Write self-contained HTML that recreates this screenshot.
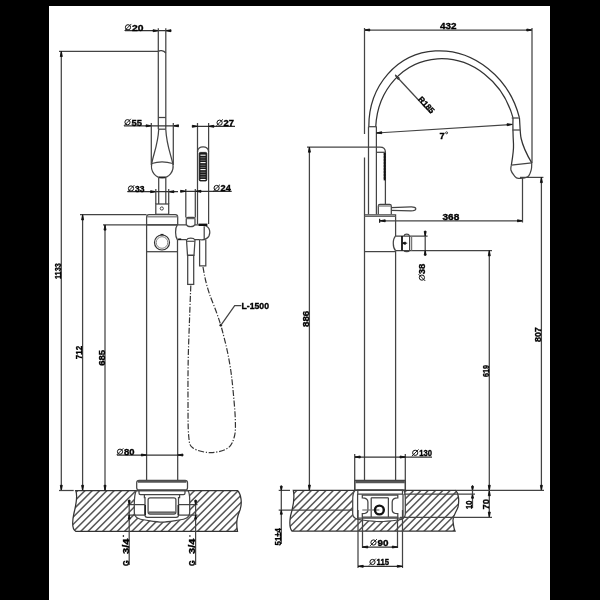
<!DOCTYPE html>
<html><head><meta charset="utf-8"><style>
html,body{margin:0;padding:0;background:#000;}
svg{display:block;will-change:transform}
text{font-family:"Liberation Sans",sans-serif;fill:#000;stroke:#000;stroke-width:0.35px;}
</style></head><body>
<svg width="600" height="600" viewBox="0 0 600 600">
<rect x="0" y="0" width="600" height="600" fill="#000"/>
<rect x="49" y="6" width="501" height="594" fill="#fff"/>
<line x1="59" y1="51.3" x2="158.3" y2="51.3" stroke="#444" stroke-width="1.25"/>
<line x1="61.3" y1="51.3" x2="61.3" y2="490.5" stroke="#444" stroke-width="1.25"/>
<path d="M61.30,51.30 L62.30,56.50 L60.30,56.50 Z" fill="#111" stroke="#111" stroke-width="0.9" stroke-linejoin="round"/>
<path d="M61.30,490.50 L60.30,485.30 L62.30,485.30 Z" fill="#111" stroke="#111" stroke-width="0.9" stroke-linejoin="round"/>
<text x="60.8" y="279" font-size="9" font-weight="bold" text-anchor="start" textLength="15.7" lengthAdjust="spacingAndGlyphs" transform="rotate(-90 60.8 279)">1133</text>
<line x1="80" y1="214.7" x2="146.5" y2="214.7" stroke="#444" stroke-width="1.25"/>
<line x1="82.6" y1="214.7" x2="82.6" y2="490.5" stroke="#444" stroke-width="1.25"/>
<path d="M82.60,214.70 L83.60,219.90 L81.60,219.90 Z" fill="#111" stroke="#111" stroke-width="0.9" stroke-linejoin="round"/>
<path d="M82.60,490.50 L81.60,485.30 L83.60,485.30 Z" fill="#111" stroke="#111" stroke-width="0.9" stroke-linejoin="round"/>
<text x="82.0" y="359.2" font-size="9" font-weight="bold" text-anchor="start" textLength="13.4" lengthAdjust="spacingAndGlyphs" transform="rotate(-90 82.0 359.2)">712</text>
<line x1="103" y1="224.9" x2="177.5" y2="224.9" stroke="#444" stroke-width="1.25"/>
<line x1="105" y1="224.9" x2="105" y2="490.5" stroke="#444" stroke-width="1.25"/>
<path d="M105.00,224.90 L106.00,230.10 L104.00,230.10 Z" fill="#111" stroke="#111" stroke-width="0.9" stroke-linejoin="round"/>
<path d="M105.00,490.50 L104.00,485.30 L106.00,485.30 Z" fill="#111" stroke="#111" stroke-width="0.9" stroke-linejoin="round"/>
<text x="104.8" y="365.8" font-size="9" font-weight="bold" text-anchor="start" textLength="15.8" lengthAdjust="spacingAndGlyphs" transform="rotate(-90 104.8 365.8)">685</text>
<line x1="125" y1="30.7" x2="171" y2="30.7" stroke="#333" stroke-width="1.25"/>
<path d="M158.30,30.70 L153.10,31.70 L153.10,29.70 Z" fill="#111" stroke="#111" stroke-width="0.9" stroke-linejoin="round"/>
<path d="M165.80,30.70 L171.00,29.70 L171.00,31.70 Z" fill="#111" stroke="#111" stroke-width="0.9" stroke-linejoin="round"/>
<line x1="158.3" y1="28.3" x2="158.3" y2="51.5" stroke="#444" stroke-width="1.25"/>
<line x1="165.8" y1="28.3" x2="165.8" y2="53" stroke="#444" stroke-width="1.25"/>
<g><circle cx="128" cy="27.3" r="2.6" fill="none" stroke="#111" stroke-width="1"/><line x1="124.60000000000001" y1="30.700000000000003" x2="131.4" y2="23.9" stroke="#111" stroke-width="0.9"/></g>
<text x="132" y="30.5" font-size="9" font-weight="bold" text-anchor="start" textLength="11.5" lengthAdjust="spacingAndGlyphs">20</text>
<line x1="158.3" y1="51.5" x2="158.3" y2="129.2" stroke="#444" stroke-width="1.25"/>
<line x1="165.8" y1="53" x2="165.8" y2="129.2" stroke="#444" stroke-width="1.25"/>
<path d="M158.3,51.5 C159.5,50 163.5,50 165.8,53" stroke="#444" stroke-width="1.25" fill="none" />
<line x1="158.3" y1="117.5" x2="165.8" y2="117.5" stroke="#444" stroke-width="1.25"/>
<line x1="158.3" y1="129.2" x2="165.8" y2="129.2" stroke="#444" stroke-width="1.25"/>
<line x1="124" y1="125.8" x2="178" y2="125.8" stroke="#333" stroke-width="1.25"/>
<path d="M151.30,125.80 L146.10,126.80 L146.10,124.80 Z" fill="#111" stroke="#111" stroke-width="0.9" stroke-linejoin="round"/>
<path d="M173.30,125.80 L178.50,124.80 L178.50,126.80 Z" fill="#111" stroke="#111" stroke-width="0.9" stroke-linejoin="round"/>
<line x1="151.3" y1="123" x2="151.3" y2="165" stroke="#444" stroke-width="1.25"/>
<line x1="173.3" y1="123" x2="173.3" y2="165" stroke="#444" stroke-width="1.25"/>
<g><circle cx="127.5" cy="122.2" r="2.6" fill="none" stroke="#111" stroke-width="1"/><line x1="124.10000000000001" y1="125.6" x2="130.9" y2="118.80000000000001" stroke="#111" stroke-width="0.9"/></g>
<text x="131.5" y="125.5" font-size="9" font-weight="bold" text-anchor="start" textLength="10.5" lengthAdjust="spacingAndGlyphs">55</text>
<path d="M158.7,129.2 C158,145 153,155 151.8,163.5" stroke="#444" stroke-width="1.25" fill="none" />
<path d="M165.8,129.2 C166.5,145 171,155 172.8,163.5" stroke="#444" stroke-width="1.25" fill="none" />
<path d="M151.8,163.5 C158,161.5 166,161.5 172.8,163.5" stroke="#444" stroke-width="1.25" fill="none" />
<path d="M151.8,163.5 C150,172 156,177.8 162.2,177.8 C168.5,177.8 174.5,172 172.8,163.5" stroke="#444" stroke-width="1.25" fill="none" />
<line x1="159" y1="177.3" x2="165.5" y2="177.3" stroke="#222" stroke-width="1.6"/>
<line x1="158.7" y1="177.8" x2="158.7" y2="204" stroke="#444" stroke-width="1.25"/>
<line x1="165.8" y1="177.8" x2="165.8" y2="204" stroke="#444" stroke-width="1.25"/>
<line x1="127.5" y1="191.7" x2="178" y2="191.7" stroke="#333" stroke-width="1.25"/>
<path d="M155.80,191.70 L150.60,192.70 L150.60,190.70 Z" fill="#111" stroke="#111" stroke-width="0.9" stroke-linejoin="round"/>
<path d="M168.70,191.70 L173.90,190.70 L173.90,192.70 Z" fill="#111" stroke="#111" stroke-width="0.9" stroke-linejoin="round"/>
<line x1="155.8" y1="189" x2="155.8" y2="204" stroke="#444" stroke-width="1.25"/>
<line x1="168.7" y1="189" x2="168.7" y2="204" stroke="#444" stroke-width="1.25"/>
<g><circle cx="131" cy="188.5" r="2.6" fill="none" stroke="#111" stroke-width="1"/><line x1="127.60000000000001" y1="191.9" x2="134.4" y2="185.1" stroke="#111" stroke-width="0.9"/></g>
<text x="135" y="191.5" font-size="9" font-weight="bold" text-anchor="start" textLength="9.5" lengthAdjust="spacingAndGlyphs">33</text>
<rect x="155.8" y="204" width="12.899999999999977" height="10.300000000000011" rx="0" stroke="#444" stroke-width="1.25" fill="none"/>
<circle cx="161.8" cy="208.5" r="1.6" fill="none" stroke="#444" stroke-width="1"/>
<path d="M146.6,480.3 L146.6,217 Q146.6,214.6 149,214.6 L175.3,214.6 Q177.7,214.6 177.7,217 L177.7,224.9 M177.5,239.5 L177.7,480.3" stroke="#444" stroke-width="1.25" fill="none" />
<line x1="146.6" y1="216.8" x2="177.7" y2="216.8" stroke="#777" stroke-width="1.25"/>
<line x1="146.6" y1="251.7" x2="177.7" y2="251.7" stroke="#444" stroke-width="1.25"/>
<circle cx="162" cy="242.5" r="7.5" fill="none" stroke="#333" stroke-width="1.2"/>
<circle cx="162" cy="242.5" r="5.8" fill="none" stroke="#666" stroke-width="0.8"/>
<line x1="160.5" y1="234.6" x2="163.5" y2="234.6" stroke="#222" stroke-width="1.4"/>
<path d="M146.6,224.9 L186.25,224.9 M195,224.9 L198.3,224.9" stroke="#444" stroke-width="1.25" fill="none" />
<path d="M177.3,224.9 C175,228 175,236.5 177.3,239.5" stroke="#444" stroke-width="1.25" fill="none" />
<path d="M177.3,239.5 L186.5,239.5 M195,239.5 L199.5,239.5" stroke="#444" stroke-width="1.25" fill="none" />
<path d="M198.3,224.9 C204,223.8 209.8,226.5 209.8,232.2 C209.8,237.8 205,240.6 199.5,239.5" stroke="#444" stroke-width="1.25" fill="none" />
<line x1="204.2" y1="226.2" x2="204.2" y2="239.5" stroke="#444" stroke-width="1.25"/>
<line x1="178.2" y1="239.2" x2="181.2" y2="239.2" stroke="#111" stroke-width="1.5"/>
<line x1="185.8" y1="189" x2="185.8" y2="217.4" stroke="#444" stroke-width="1.25"/>
<line x1="195.3" y1="189" x2="195.3" y2="217.4" stroke="#444" stroke-width="1.25"/>
<path d="M186.25,224.5 L186.25,219 Q186.25,217.4 188,217.4 L193.3,217.4 Q195,217.4 195,219 L195,224.5 C193.7,227.4 187.5,227.4 186.25,224.5" stroke="#444" stroke-width="1.25" fill="none" />
<line x1="186.25" y1="218.6" x2="195" y2="218.6" stroke="#666" stroke-width="1.25"/>
<path d="M186.5,240 C187.8,237.6 193.7,237.6 195,240 L194,255.3 L187.5,255.3 Z" stroke="#444" stroke-width="1.25" fill="none" />
<line x1="186.6" y1="241.3" x2="194.9" y2="241.3" stroke="#555" stroke-width="1.25"/>
<rect x="187.7" y="255.3" width="6.0" height="29.099999999999966" rx="0" stroke="#444" stroke-width="1.25" fill="none"/>
<line x1="197.5" y1="123" x2="197.5" y2="224" stroke="#444" stroke-width="1.25"/>
<line x1="208.6" y1="123" x2="208.6" y2="224" stroke="#444" stroke-width="1.25"/>
<path d="M197.5,152 C197.5,145 208.6,145 208.6,152" stroke="#444" stroke-width="1.25" fill="none" />
<rect x="199.2" y="152.4" width="7.600000000000023" height="28.599999999999994" rx="1.2" stroke="#111" stroke-width="0.8" fill="#1a1a1a"/>
<line x1="200.4" y1="155.2" x2="205.6" y2="155.2" stroke="#fff" stroke-width="1.1"/>
<line x1="200.4" y1="162.6" x2="205.6" y2="162.6" stroke="#fff" stroke-width="1.1"/>
<line x1="200.4" y1="169.6" x2="205.6" y2="169.6" stroke="#fff" stroke-width="1.1"/>
<line x1="200.4" y1="179.5" x2="205.6" y2="179.5" stroke="#fff" stroke-width="1.1"/>
<line x1="200.4" y1="157.8" x2="205.6" y2="157.8" stroke="#999" stroke-width="0.7"/>
<line x1="200.4" y1="160.2" x2="205.6" y2="160.2" stroke="#999" stroke-width="0.7"/>
<line x1="200.4" y1="165.2" x2="205.6" y2="165.2" stroke="#999" stroke-width="0.7"/>
<line x1="200.4" y1="167.4" x2="205.6" y2="167.4" stroke="#999" stroke-width="0.7"/>
<line x1="200.4" y1="172.2" x2="205.6" y2="172.2" stroke="#999" stroke-width="0.7"/>
<line x1="200.4" y1="174.6" x2="205.6" y2="174.6" stroke="#999" stroke-width="0.7"/>
<line x1="200.4" y1="177" x2="205.6" y2="177" stroke="#999" stroke-width="0.7"/>
<line x1="198.6" y1="224.8" x2="207.4" y2="224.8" stroke="#111" stroke-width="2.4"/>
<line x1="192.5" y1="126.3" x2="235" y2="126.3" stroke="#333" stroke-width="1.25"/>
<path d="M197.50,126.30 L192.30,127.30 L192.30,125.30 Z" fill="#111" stroke="#111" stroke-width="0.9" stroke-linejoin="round"/>
<path d="M208.60,126.30 L213.80,125.30 L213.80,127.30 Z" fill="#111" stroke="#111" stroke-width="0.9" stroke-linejoin="round"/>
<g><circle cx="219.6" cy="122.7" r="2.6" fill="none" stroke="#111" stroke-width="1"/><line x1="216.2" y1="126.1" x2="223.0" y2="119.30000000000001" stroke="#111" stroke-width="0.9"/></g>
<text x="223.6" y="125.9" font-size="9" font-weight="bold" text-anchor="start" textLength="10.5" lengthAdjust="spacingAndGlyphs">27</text>
<line x1="180.8" y1="191.3" x2="231.7" y2="191.3" stroke="#333" stroke-width="1.25"/>
<path d="M185.80,191.30 L180.60,192.30 L180.60,190.30 Z" fill="#111" stroke="#111" stroke-width="0.9" stroke-linejoin="round"/>
<path d="M195.80,191.30 L201.00,190.30 L201.00,192.30 Z" fill="#111" stroke="#111" stroke-width="0.9" stroke-linejoin="round"/>
<g><circle cx="216.6" cy="188" r="2.6" fill="none" stroke="#111" stroke-width="1"/><line x1="213.2" y1="191.4" x2="220.0" y2="184.6" stroke="#111" stroke-width="0.9"/></g>
<text x="220.6" y="191" font-size="9" font-weight="bold" text-anchor="start" textLength="10.2" lengthAdjust="spacingAndGlyphs">24</text>
<path d="M199.6,239.5 L199.6,265.8 L205.8,265.8 L205.8,239.8" stroke="#444" stroke-width="1.25" fill="none" />
<path d="M190.80,285.50 C190.58,291.25 189.93,307.58 189.50,320.00 C189.07,332.42 188.45,346.67 188.20,360.00 C187.95,373.33 187.92,387.33 188.00,400.00 C188.08,412.67 187.87,428.00 188.70,436.00 C189.53,444.00 189.37,445.23 193.00,448.00 C196.63,450.77 204.67,452.60 210.50,452.60 C216.33,452.60 224.00,450.77 228.00,448.00 C232.00,445.23 233.28,440.75 234.50,436.00 C235.72,431.25 235.47,426.33 235.30,419.50 C235.13,412.67 234.22,402.92 233.50,395.00 C232.78,387.08 232.00,379.17 231.00,372.00 C230.00,364.83 228.67,357.78 227.50,352.00 C226.33,346.22 225.12,341.75 224.00,337.30 C222.88,332.85 222.13,329.68 220.80,325.30 C219.47,320.92 217.88,316.22 216.00,311.00 C214.12,305.78 211.25,299.17 209.50,294.00 C207.75,288.83 206.58,284.50 205.50,280.00 C204.42,275.50 203.42,269.17 203.00,267.00" stroke="#333" stroke-width="1.2" fill="none" stroke-dasharray="6 1.7 1.2 1.7"/>
<circle cx="220.8" cy="325.3" r="1.3" fill="#111"/>
<path d="M220.8,325.3 L234.7,305.7 L241.3,305.7" stroke="#444" stroke-width="1.25" fill="none" />
<text x="241.5" y="308.8" font-size="9" font-weight="bold" text-anchor="start" textLength="27.5" lengthAdjust="spacingAndGlyphs">L-1500</text>
<line x1="117" y1="455" x2="183" y2="455" stroke="#333" stroke-width="1.25"/>
<path d="M146.60,455.00 L141.40,456.00 L141.40,454.00 Z" fill="#111" stroke="#111" stroke-width="0.9" stroke-linejoin="round"/>
<path d="M177.70,455.00 L182.90,454.00 L182.90,456.00 Z" fill="#111" stroke="#111" stroke-width="0.9" stroke-linejoin="round"/>
<g><circle cx="120" cy="451.7" r="2.6" fill="none" stroke="#111" stroke-width="1"/><line x1="116.60000000000001" y1="455.1" x2="123.39999999999999" y2="448.29999999999995" stroke="#111" stroke-width="0.9"/></g>
<text x="124" y="454.6" font-size="9" font-weight="bold" text-anchor="start" textLength="10.5" lengthAdjust="spacingAndGlyphs">80</text>
<rect x="136.7" y="480.3" width="50.80000000000001" height="9.899999999999977" rx="2.5" stroke="#444" stroke-width="1.25" fill="none"/>
<line x1="138" y1="481.6" x2="186.2" y2="481.6" stroke="#555" stroke-width="2.2"/>
<clipPath id="cl"><path clip-rule="evenodd" d="M75.7,490.5 L237.5,490.5 C241,494 242.5,503 240,510 C238,515 235.5,521 237.5,531.3 L75.7,531.3 C72,529 72,522 74,513 C76,505 78,496 75.7,490.5 Z M136.4,490.5 C134.3,494 134.3,498 134.3,505 L134.3,512 C134.3,518 139,519.3 145,520 C152,521 158,522 162,522 C166,522 172,521 179,520 C185,519.3 189.7,518 189.7,512 L189.7,500 C189.7,495 189,492 188,490.5 Z"/></clipPath>
<g clip-path="url(#cl)"><line x1="20.70" y1="533" x2="65.70" y2="488" stroke="#555" stroke-width="1.5"/><line x1="28.00" y1="533" x2="73.00" y2="488" stroke="#555" stroke-width="1.5"/><line x1="35.30" y1="533" x2="80.30" y2="488" stroke="#555" stroke-width="1.5"/><line x1="42.60" y1="533" x2="87.60" y2="488" stroke="#555" stroke-width="1.5"/><line x1="49.90" y1="533" x2="94.90" y2="488" stroke="#555" stroke-width="1.5"/><line x1="57.20" y1="533" x2="102.20" y2="488" stroke="#555" stroke-width="1.5"/><line x1="64.50" y1="533" x2="109.50" y2="488" stroke="#555" stroke-width="1.5"/><line x1="71.80" y1="533" x2="116.80" y2="488" stroke="#555" stroke-width="1.5"/><line x1="79.10" y1="533" x2="124.10" y2="488" stroke="#555" stroke-width="1.5"/><line x1="86.40" y1="533" x2="131.40" y2="488" stroke="#555" stroke-width="1.5"/><line x1="93.70" y1="533" x2="138.70" y2="488" stroke="#555" stroke-width="1.5"/><line x1="101.00" y1="533" x2="146.00" y2="488" stroke="#555" stroke-width="1.5"/><line x1="108.30" y1="533" x2="153.30" y2="488" stroke="#555" stroke-width="1.5"/><line x1="115.60" y1="533" x2="160.60" y2="488" stroke="#555" stroke-width="1.5"/><line x1="122.90" y1="533" x2="167.90" y2="488" stroke="#555" stroke-width="1.5"/><line x1="130.20" y1="533" x2="175.20" y2="488" stroke="#555" stroke-width="1.5"/><line x1="137.50" y1="533" x2="182.50" y2="488" stroke="#555" stroke-width="1.5"/><line x1="144.80" y1="533" x2="189.80" y2="488" stroke="#555" stroke-width="1.5"/><line x1="152.10" y1="533" x2="197.10" y2="488" stroke="#555" stroke-width="1.5"/><line x1="159.40" y1="533" x2="204.40" y2="488" stroke="#555" stroke-width="1.5"/><line x1="166.70" y1="533" x2="211.70" y2="488" stroke="#555" stroke-width="1.5"/><line x1="174.00" y1="533" x2="219.00" y2="488" stroke="#555" stroke-width="1.5"/><line x1="181.30" y1="533" x2="226.30" y2="488" stroke="#555" stroke-width="1.5"/><line x1="188.60" y1="533" x2="233.60" y2="488" stroke="#555" stroke-width="1.5"/><line x1="195.90" y1="533" x2="240.90" y2="488" stroke="#555" stroke-width="1.5"/><line x1="203.20" y1="533" x2="248.20" y2="488" stroke="#555" stroke-width="1.5"/><line x1="210.50" y1="533" x2="255.50" y2="488" stroke="#555" stroke-width="1.5"/><line x1="217.80" y1="533" x2="262.80" y2="488" stroke="#555" stroke-width="1.5"/><line x1="225.10" y1="533" x2="270.10" y2="488" stroke="#555" stroke-width="1.5"/><line x1="232.40" y1="533" x2="277.40" y2="488" stroke="#555" stroke-width="1.5"/><line x1="239.70" y1="533" x2="284.70" y2="488" stroke="#555" stroke-width="1.5"/><line x1="247.00" y1="533" x2="292.00" y2="488" stroke="#555" stroke-width="1.5"/></g>
<path d="M75.7,490.5 L237.5,490.5 C241,494 242.5,503 240,510 C238,515 235.5,521 237.5,531.3 L75.7,531.3 C72,529 72,522 74,513 C76,505 78,496 75.7,490.5 Z" stroke="#333" stroke-width="1.25" fill="none" />
<path d="M136.4,490.5 C134.3,494 134.3,498 134.3,505 L134.3,512 C134.3,518 139,519.3 145,520 C152,521 158,522 162,522 C166,522 172,521 179,520 C185,519.3 189.7,518 189.7,512 L189.7,500 C189.7,495 189,492 188,490.5 Z" stroke="#444" stroke-width="1.25" fill="none" />
<line x1="59" y1="490.5" x2="73.7" y2="490.5" stroke="#444" stroke-width="1.25"/>
<path d="M139,490.2 L185,490.2 L185,493 Q185,494.6 183.5,494.6 L140.5,494.6 Q139,494.6 139,493 Z" stroke="#444" stroke-width="1.25" fill="none" />
<path d="M144.4,494.6 L144.4,497.6 L145,497.6 L145,515 Q145,517.3 147.3,517.3 L176.2,517.3 Q178.5,517.3 178.5,515 L178.5,497.6 L179.6,497.6 L179.6,494.6" stroke="#444" stroke-width="1.25" fill="none" />
<rect x="148.1" y="497.8" width="27.80000000000001" height="16.30000000000001" rx="2" stroke="#444" stroke-width="1.25" fill="none"/>
<line x1="149" y1="512.5" x2="175" y2="512.5" stroke="#666" stroke-width="2.2"/>
<line x1="145.2" y1="505" x2="145.2" y2="515" stroke="#222" stroke-width="1.6"/>
<line x1="178.3" y1="505" x2="178.3" y2="515" stroke="#222" stroke-width="1.6"/>
<line x1="127.5" y1="504.6" x2="145" y2="504.6" stroke="#444" stroke-width="1.25"/>
<line x1="127.5" y1="515.1" x2="145" y2="515.1" stroke="#444" stroke-width="1.25"/>
<line x1="178.5" y1="504.6" x2="197.5" y2="504.6" stroke="#444" stroke-width="1.25"/>
<line x1="178.5" y1="515.1" x2="197.5" y2="515.1" stroke="#444" stroke-width="1.25"/>
<line x1="129.2" y1="499.5" x2="129.2" y2="565" stroke="#444" stroke-width="1.25"/>
<line x1="195.6" y1="499.5" x2="195.6" y2="565" stroke="#444" stroke-width="1.25"/>
<path d="M129.20,504.60 L128.20,500.60 L130.20,500.60 Z" fill="#111" stroke="#111" stroke-width="0.9" stroke-linejoin="round"/>
<path d="M129.20,515.10 L130.20,519.10 L128.20,519.10 Z" fill="#111" stroke="#111" stroke-width="0.9" stroke-linejoin="round"/>
<path d="M195.60,504.60 L194.60,500.60 L196.60,500.60 Z" fill="#111" stroke="#111" stroke-width="0.9" stroke-linejoin="round"/>
<path d="M195.60,515.10 L196.60,519.10 L194.60,519.10 Z" fill="#111" stroke="#111" stroke-width="0.9" stroke-linejoin="round"/>
<text x="128.6" y="566" font-size="8.6" font-weight="bold" text-anchor="start" textLength="5.8" lengthAdjust="spacingAndGlyphs" transform="rotate(-90 128.6 566)">G</text>
<text x="128.6" y="553.9" font-size="8.6" font-weight="bold" text-anchor="start" textLength="15.2" lengthAdjust="spacingAndGlyphs" transform="rotate(-90 128.6 553.9)">3/4</text>
<line x1="123.39999999999999" y1="535.2" x2="123.39999999999999" y2="536.8" stroke="#111" stroke-width="1.3"/>
<text x="195.1" y="566" font-size="8.6" font-weight="bold" text-anchor="start" textLength="5.8" lengthAdjust="spacingAndGlyphs" transform="rotate(-90 195.1 566)">G</text>
<text x="195.1" y="553.9" font-size="8.6" font-weight="bold" text-anchor="start" textLength="15.2" lengthAdjust="spacingAndGlyphs" transform="rotate(-90 195.1 553.9)">3/4</text>
<line x1="189.9" y1="535.2" x2="189.9" y2="536.8" stroke="#111" stroke-width="1.3"/>
<line x1="364.5" y1="30" x2="532" y2="30" stroke="#444" stroke-width="1.25"/>
<path d="M364.50,30.00 L369.70,29.00 L369.70,31.00 Z" fill="#111" stroke="#111" stroke-width="0.9" stroke-linejoin="round"/>
<path d="M532.00,30.00 L526.80,31.00 L526.80,29.00 Z" fill="#111" stroke="#111" stroke-width="0.9" stroke-linejoin="round"/>
<line x1="364.5" y1="28" x2="364.5" y2="134" stroke="#444" stroke-width="1.25"/>
<line x1="364.5" y1="157.5" x2="364.5" y2="480.3" stroke="#444" stroke-width="1.25"/>
<line x1="532" y1="28" x2="532" y2="163" stroke="#444" stroke-width="1.25"/>
<text x="440" y="29.2" font-size="9" font-weight="bold" text-anchor="start" textLength="16.5" lengthAdjust="spacingAndGlyphs">432</text>
<path d="M368.829,126.529 A83.530,75.134 -114.493 0 1 519.446,117.940" stroke="#333" stroke-width="1.25" fill="none" />
<path d="M375.767,126.550 A77.240,69.384 -107.672 0 1 513.022,117.915" stroke="#333" stroke-width="1.25" fill="none" />
<line x1="368.5" y1="214.3" x2="368.5" y2="126.7" stroke="#444" stroke-width="1.25"/>
<line x1="376.4" y1="214.3" x2="376.4" y2="126.7" stroke="#444" stroke-width="1.25"/>
<line x1="368.5" y1="126.7" x2="368.8291622184918" y2="126.52903953883941" stroke="#444" stroke-width="1.25"/>
<line x1="376.4" y1="126.7" x2="375.767308816137" y2="126.54994369420062" stroke="#444" stroke-width="1.25"/>
<path d="M519.45,117.94 C520,125 520,132 521,138 C523,147 527,155 531.75,162.8" stroke="#333" stroke-width="1.25" fill="none" />
<path d="M513.02,117.92 C512.8,124 513,135 513.5,144 C513.8,151 512.5,158 511.3,165.2" stroke="#333" stroke-width="1.25" fill="none" />
<line x1="368.5" y1="126.7" x2="376.4" y2="126.7" stroke="#444" stroke-width="1.25"/>
<line x1="511.7" y1="118" x2="518.9" y2="118" stroke="#444" stroke-width="1.25"/>
<line x1="512.5" y1="130" x2="520" y2="130" stroke="#444" stroke-width="1.25"/>
<path d="M511.3,165.2 L531.75,162.8" stroke="#444" stroke-width="1.25" fill="none" />
<path d="M511.30,165.20 C511.23,166.00 510.41,168.25 510.90,170.00 C511.39,171.75 513.02,174.30 514.25,175.70 C515.48,177.10 516.06,178.22 518.30,178.40 C520.54,178.58 525.55,178.23 527.70,176.80 C529.85,175.37 530.53,172.13 531.20,169.80 C531.88,167.47 531.66,163.97 531.75,162.80" stroke="#444" stroke-width="1.25" fill="none" />
<path d="M395.20,75.00 L399.46,78.14 L397.99,79.50 Z" fill="#111" stroke="#111" stroke-width="0.9" stroke-linejoin="round"/>
<line x1="395.2" y1="75" x2="431" y2="113.5" stroke="#444" stroke-width="1.25"/>
<text x="417.8" y="99.6" font-size="8" font-weight="bold" text-anchor="start" textLength="19.5" lengthAdjust="spacingAndGlyphs" transform="rotate(47 417.8 99.6)">R185</text>
<line x1="376.5" y1="133" x2="511.5" y2="124.5" stroke="#444" stroke-width="1.25"/>
<path d="M376.50,133.00 L381.63,131.69 L381.75,133.69 Z" fill="#111" stroke="#111" stroke-width="0.9" stroke-linejoin="round"/>
<path d="M512.30,124.40 L507.17,125.71 L507.05,123.71 Z" fill="#111" stroke="#111" stroke-width="0.9" stroke-linejoin="round"/>
<text x="439.6" y="139.2" font-size="9" font-weight="bold" text-anchor="start" textLength="5.2" lengthAdjust="spacingAndGlyphs">7</text>
<circle cx="446.6" cy="132.8" r="1" fill="none" stroke="#111" stroke-width="0.8"/>
<line x1="307" y1="147" x2="376.4" y2="147" stroke="#444" stroke-width="1.25"/>
<line x1="309.4" y1="147" x2="309.4" y2="490.3" stroke="#444" stroke-width="1.25"/>
<path d="M309.40,147.00 L310.40,152.20 L308.40,152.20 Z" fill="#111" stroke="#111" stroke-width="0.9" stroke-linejoin="round"/>
<path d="M309.40,490.30 L308.40,485.10 L310.40,485.10 Z" fill="#111" stroke="#111" stroke-width="0.9" stroke-linejoin="round"/>
<text x="309.3" y="327" font-size="9" font-weight="bold" text-anchor="start" textLength="16.2" lengthAdjust="spacingAndGlyphs" transform="rotate(-90 309.3 327)">886</text>
<path d="M376.4,147 L380,147 C383.5,147 385.4,149 385.4,152 L385.4,204.3" stroke="#444" stroke-width="1.25" fill="none" />
<line x1="376.4" y1="152.3" x2="385" y2="152.3" stroke="#444" stroke-width="1.25"/>
<line x1="384.6" y1="153" x2="384.6" y2="180.4" stroke="#111" stroke-width="1.8"/>
<line x1="383.6" y1="154" x2="385.8" y2="154" stroke="#111" stroke-width="0.8"/>
<line x1="383.6" y1="157" x2="385.8" y2="157" stroke="#111" stroke-width="0.8"/>
<line x1="383.6" y1="160" x2="385.8" y2="160" stroke="#111" stroke-width="0.8"/>
<line x1="383.6" y1="163" x2="385.8" y2="163" stroke="#111" stroke-width="0.8"/>
<line x1="383.6" y1="166" x2="385.8" y2="166" stroke="#111" stroke-width="0.8"/>
<line x1="383.6" y1="169" x2="385.8" y2="169" stroke="#111" stroke-width="0.8"/>
<line x1="383.6" y1="172" x2="385.8" y2="172" stroke="#111" stroke-width="0.8"/>
<line x1="383.6" y1="175" x2="385.8" y2="175" stroke="#111" stroke-width="0.8"/>
<line x1="383.6" y1="178" x2="385.8" y2="178" stroke="#111" stroke-width="0.8"/>
<path d="M378.3,214.3 L378.3,206 Q378.3,204.3 380,204.3 L389.6,204.3 Q391.3,204.3 391.3,206 L391.3,214.3" stroke="#444" stroke-width="1.25" fill="none" />
<line x1="378.3" y1="206" x2="391.3" y2="206" stroke="#777" stroke-width="1.25"/>
<path d="M391.3,207.6 L411,206.9 C414,206.8 415.8,207.8 415.8,208.8 C415.8,209.9 414,210.9 411,210.9 L391.3,210.4" stroke="#444" stroke-width="1.25" fill="none" />
<path d="M364.6,214.8 L395.6,214.8 L395.6,236 M395.6,250.8 L395.6,480.3" stroke="#444" stroke-width="1.25" fill="none" />
<line x1="364.6" y1="216.4" x2="395.6" y2="216.4" stroke="#666" stroke-width="1.25"/>
<line x1="364.6" y1="251.6" x2="395.6" y2="251.6" stroke="#444" stroke-width="1.25"/>
<path d="M395.6,236 C392.5,239 392.5,247.5 395.6,250.8" stroke="#444" stroke-width="1.25" fill="none" />
<line x1="395.6" y1="236" x2="427.6" y2="236" stroke="#444" stroke-width="1.25"/>
<line x1="395.6" y1="250.6" x2="492" y2="250.6" stroke="#444" stroke-width="1.25"/>
<line x1="402" y1="236" x2="402" y2="250.4" stroke="#111" stroke-width="1.8"/>
<path d="M402,243.2 L407.2,243.2" stroke="#444" stroke-width="1.25" fill="none" />
<path d="M402.30,243.20 L405.30,242.00 L405.30,244.40 Z" fill="#111" stroke="#111" stroke-width="0.9" stroke-linejoin="round"/>
<path d="M404,236 C404.5,233.5 409,233.5 409.4,236" stroke="#444" stroke-width="1.25" fill="none" />
<path d="M404,250.5 C404.5,252 409,252 409.4,250.5" stroke="#444" stroke-width="1.25" fill="none" />
<line x1="409.6" y1="236" x2="409.6" y2="250.5" stroke="#444" stroke-width="1.25"/>
<line x1="411.6" y1="236" x2="411.6" y2="250.5" stroke="#777" stroke-width="1.25"/>
<line x1="425.2" y1="230.4" x2="425.2" y2="256" stroke="#444" stroke-width="1.25"/>
<path d="M425.20,236.00 L424.20,231.50 L426.20,231.50 Z" fill="#111" stroke="#111" stroke-width="0.9" stroke-linejoin="round"/>
<path d="M425.20,250.60 L426.20,255.10 L424.20,255.10 Z" fill="#111" stroke="#111" stroke-width="0.9" stroke-linejoin="round"/>
<g transform="rotate(-90 421.9 277.6)"><circle cx="421.9" cy="277.6" r="2.6" fill="none" stroke="#111" stroke-width="1"/><line x1="418.49999999999994" y1="281.00000000000006" x2="425.3" y2="274.2" stroke="#111" stroke-width="0.9"/></g>
<text x="424.9" y="274.3" font-size="9" font-weight="bold" text-anchor="start" textLength="10.5" lengthAdjust="spacingAndGlyphs" transform="rotate(-90 424.9 274.3)">38</text>
<line x1="380" y1="220.8" x2="522.7" y2="220.8" stroke="#444" stroke-width="1.25"/>
<path d="M380.00,220.80 L385.20,219.80 L385.20,221.80 Z" fill="#111" stroke="#111" stroke-width="0.9" stroke-linejoin="round"/>
<line x1="379.6" y1="218.8" x2="379.6" y2="222.8" stroke="#222" stroke-width="1.25"/>
<path d="M522.70,220.80 L517.50,221.80 L517.50,219.80 Z" fill="#111" stroke="#111" stroke-width="0.9" stroke-linejoin="round"/>
<line x1="522.5" y1="177.4" x2="522.5" y2="222.5" stroke="#444" stroke-width="1.25"/>
<text x="442.5" y="220.1" font-size="9" font-weight="bold" text-anchor="start" textLength="16.8" lengthAdjust="spacingAndGlyphs">368</text>
<line x1="520" y1="177.4" x2="543.4" y2="177.4" stroke="#444" stroke-width="1.25"/>
<line x1="541.4" y1="177.4" x2="541.4" y2="490.5" stroke="#444" stroke-width="1.25"/>
<path d="M541.40,177.40 L542.40,182.60 L540.40,182.60 Z" fill="#111" stroke="#111" stroke-width="0.9" stroke-linejoin="round"/>
<path d="M541.40,490.50 L540.40,485.30 L542.40,485.30 Z" fill="#111" stroke="#111" stroke-width="0.9" stroke-linejoin="round"/>
<text x="540.9" y="342" font-size="9" font-weight="bold" text-anchor="start" textLength="14.7" lengthAdjust="spacingAndGlyphs" transform="rotate(-90 540.9 342)">807</text>
<line x1="489.3" y1="250.6" x2="489.3" y2="517.3" stroke="#444" stroke-width="1.25"/>
<path d="M489.30,250.60 L490.30,255.80 L488.30,255.80 Z" fill="#111" stroke="#111" stroke-width="0.9" stroke-linejoin="round"/>
<path d="M489.30,490.50 L488.30,485.30 L490.30,485.30 Z" fill="#111" stroke="#111" stroke-width="0.9" stroke-linejoin="round"/>
<path d="M489.30,490.50 L490.30,495.70 L488.30,495.70 Z" fill="#111" stroke="#111" stroke-width="0.9" stroke-linejoin="round"/>
<path d="M489.30,517.30 L488.30,512.10 L490.30,512.10 Z" fill="#111" stroke="#111" stroke-width="0.9" stroke-linejoin="round"/>
<text x="488.9" y="377" font-size="9" font-weight="bold" text-anchor="start" textLength="12" lengthAdjust="spacingAndGlyphs" transform="rotate(-90 488.9 377)">619</text>
<line x1="472.5" y1="485" x2="472.5" y2="508" stroke="#444" stroke-width="1.25"/>
<path d="M472.50,490.50 L471.50,486.50 L473.50,486.50 Z" fill="#111" stroke="#111" stroke-width="0.9" stroke-linejoin="round"/>
<path d="M472.50,494.20 L473.50,498.20 L471.50,498.20 Z" fill="#111" stroke="#111" stroke-width="0.9" stroke-linejoin="round"/>
<text x="472.2" y="509" font-size="9" font-weight="bold" text-anchor="start" textLength="8.5" lengthAdjust="spacingAndGlyphs" transform="rotate(-90 472.2 509)">10</text>
<text x="489" y="509.5" font-size="9" font-weight="bold" text-anchor="start" textLength="10.5" lengthAdjust="spacingAndGlyphs" transform="rotate(-90 489 509.5)">70</text>
<rect x="354.8" y="480.3" width="50.599999999999966" height="9.899999999999977" rx="0.5" stroke="#444" stroke-width="1.25" fill="none"/>
<line x1="355.5" y1="482.2" x2="404.8" y2="482.2" stroke="#555" stroke-width="2.2"/>
<line x1="354.7" y1="454" x2="354.7" y2="490.2" stroke="#444" stroke-width="1.25"/>
<line x1="405.3" y1="454" x2="405.3" y2="490.2" stroke="#444" stroke-width="1.25"/>
<line x1="355" y1="457" x2="432" y2="457" stroke="#333" stroke-width="1.25"/>
<path d="M355.00,457.00 L360.20,456.00 L360.20,458.00 Z" fill="#111" stroke="#111" stroke-width="0.9" stroke-linejoin="round"/>
<path d="M405.30,457.00 L400.10,458.00 L400.10,456.00 Z" fill="#111" stroke="#111" stroke-width="0.9" stroke-linejoin="round"/>
<g><circle cx="415.2" cy="452.8" r="2.6" fill="none" stroke="#111" stroke-width="1"/><line x1="411.79999999999995" y1="456.20000000000005" x2="418.6" y2="449.4" stroke="#111" stroke-width="0.9"/></g>
<text x="419.2" y="456" font-size="9" font-weight="bold" text-anchor="start" textLength="12.8" lengthAdjust="spacingAndGlyphs">130</text>
<clipPath id="cr"><path clip-rule="evenodd" d="M293.3,490.4 L455.7,490.4 C458.5,493 459.5,500 458,507 C456.5,512 452.5,516 453,521 C453.5,526 454,529 455,531.1 L292,531.1 C289.5,528 289.5,522 290.5,516 C292,510 295.5,500 293.3,490.4 Z M355,490.4 C353,492 352.7,495 352.7,500 L352.7,514 C352.7,518 356,519.5 362,520 C370,521 376,521.5 380,521.5 C384,521.5 390,521 398,520 C403,519.5 405.3,518 405.3,514 L405.3,500 C405.3,495 405,492 404,490.4 Z"/></clipPath>
<g clip-path="url(#cr)"><line x1="239.70" y1="533" x2="284.70" y2="488" stroke="#555" stroke-width="1.5"/><line x1="247.00" y1="533" x2="292.00" y2="488" stroke="#555" stroke-width="1.5"/><line x1="254.30" y1="533" x2="299.30" y2="488" stroke="#555" stroke-width="1.5"/><line x1="261.60" y1="533" x2="306.60" y2="488" stroke="#555" stroke-width="1.5"/><line x1="268.90" y1="533" x2="313.90" y2="488" stroke="#555" stroke-width="1.5"/><line x1="276.20" y1="533" x2="321.20" y2="488" stroke="#555" stroke-width="1.5"/><line x1="283.50" y1="533" x2="328.50" y2="488" stroke="#555" stroke-width="1.5"/><line x1="290.80" y1="533" x2="335.80" y2="488" stroke="#555" stroke-width="1.5"/><line x1="298.10" y1="533" x2="343.10" y2="488" stroke="#555" stroke-width="1.5"/><line x1="305.40" y1="533" x2="350.40" y2="488" stroke="#555" stroke-width="1.5"/><line x1="312.70" y1="533" x2="357.70" y2="488" stroke="#555" stroke-width="1.5"/><line x1="320.00" y1="533" x2="365.00" y2="488" stroke="#555" stroke-width="1.5"/><line x1="327.30" y1="533" x2="372.30" y2="488" stroke="#555" stroke-width="1.5"/><line x1="334.60" y1="533" x2="379.60" y2="488" stroke="#555" stroke-width="1.5"/><line x1="341.90" y1="533" x2="386.90" y2="488" stroke="#555" stroke-width="1.5"/><line x1="349.20" y1="533" x2="394.20" y2="488" stroke="#555" stroke-width="1.5"/><line x1="356.50" y1="533" x2="401.50" y2="488" stroke="#555" stroke-width="1.5"/><line x1="363.80" y1="533" x2="408.80" y2="488" stroke="#555" stroke-width="1.5"/><line x1="371.10" y1="533" x2="416.10" y2="488" stroke="#555" stroke-width="1.5"/><line x1="378.40" y1="533" x2="423.40" y2="488" stroke="#555" stroke-width="1.5"/><line x1="385.70" y1="533" x2="430.70" y2="488" stroke="#555" stroke-width="1.5"/><line x1="393.00" y1="533" x2="438.00" y2="488" stroke="#555" stroke-width="1.5"/><line x1="400.30" y1="533" x2="445.30" y2="488" stroke="#555" stroke-width="1.5"/><line x1="407.60" y1="533" x2="452.60" y2="488" stroke="#555" stroke-width="1.5"/><line x1="414.90" y1="533" x2="459.90" y2="488" stroke="#555" stroke-width="1.5"/><line x1="422.20" y1="533" x2="467.20" y2="488" stroke="#555" stroke-width="1.5"/><line x1="429.50" y1="533" x2="474.50" y2="488" stroke="#555" stroke-width="1.5"/><line x1="436.80" y1="533" x2="481.80" y2="488" stroke="#555" stroke-width="1.5"/><line x1="444.10" y1="533" x2="489.10" y2="488" stroke="#555" stroke-width="1.5"/><line x1="451.40" y1="533" x2="496.40" y2="488" stroke="#555" stroke-width="1.5"/><line x1="458.70" y1="533" x2="503.70" y2="488" stroke="#555" stroke-width="1.5"/><line x1="466.00" y1="533" x2="511.00" y2="488" stroke="#555" stroke-width="1.5"/></g>
<path d="M293.3,490.4 L455.7,490.4 C458.5,493 459.5,500 458,507 C456.5,512 452.5,516 453,521 C453.5,526 454,529 455,531.1 L292,531.1 C289.5,528 289.5,522 290.5,516 C292,510 295.5,500 293.3,490.4 Z" stroke="#333" stroke-width="1.25" fill="none" />
<path d="M355,490.4 C353,492 352.7,495 352.7,500 L352.7,514 C352.7,518 356,519.5 362,520 C370,521 376,521.5 380,521.5 C384,521.5 390,521 398,520 C403,519.5 405.3,518 405.3,514 L405.3,500 C405.3,495 405,492 404,490.4 Z" stroke="#444" stroke-width="1.25" fill="none" />
<line x1="455.7" y1="490.4" x2="544" y2="490.4" stroke="#444" stroke-width="1.25"/>
<line x1="404" y1="494.2" x2="475" y2="494.2" stroke="#444" stroke-width="1.25"/>
<line x1="400" y1="517.3" x2="492" y2="517.3" stroke="#444" stroke-width="1.25"/>
<line x1="278.7" y1="490.4" x2="290" y2="490.4" stroke="#444" stroke-width="1.25"/>
<line x1="278.7" y1="510.2" x2="352.7" y2="510.2" stroke="#444" stroke-width="1.25"/>
<line x1="281.3" y1="485.3" x2="281.3" y2="544" stroke="#444" stroke-width="1.25"/>
<path d="M281.30,490.40 L280.30,486.40 L282.30,486.40 Z" fill="#111" stroke="#111" stroke-width="0.9" stroke-linejoin="round"/>
<path d="M281.30,510.20 L282.30,514.20 L280.30,514.20 Z" fill="#111" stroke="#111" stroke-width="0.9" stroke-linejoin="round"/>
<text x="281.2" y="545.5" font-size="9" font-weight="bold" text-anchor="start" textLength="17.5" lengthAdjust="spacingAndGlyphs" transform="rotate(-90 281.2 545.5)">51±4</text>
<path d="M357.8,490.2 L402.5,490.2 L402.5,494.1 L357.8,494.1 Z" stroke="#444" stroke-width="1.25" fill="none" />
<path d="M357.6,494.1 L357.6,518 L403,518 L403,494.1" stroke="#444" stroke-width="1.25" fill="none" />
<path d="M362.3,495 L397.8,495 L397.8,497.8 Q392.2,497.8 392.2,502 L392.2,510 Q392.2,513.7 397.8,513.7 L397.8,517 L362.3,517 L362.3,513.7 Q367.9,513.7 367.9,510 L367.9,502 Q367.9,497.8 362.3,497.8 Z" stroke="#444" stroke-width="1.25" fill="none" />
<line x1="371.2" y1="497.8" x2="371.2" y2="517" stroke="#444" stroke-width="1.25"/>
<line x1="388.4" y1="497.8" x2="388.4" y2="517" stroke="#444" stroke-width="1.25"/>
<line x1="371.2" y1="497.8" x2="388.4" y2="497.8" stroke="#444" stroke-width="1.25"/>
<line x1="362.3" y1="510" x2="379.4" y2="510" stroke="#777" stroke-width="1.25"/>
<circle cx="379.4" cy="510" r="4.4" fill="none" stroke="#111" stroke-width="2.4"/>
<line x1="362.5" y1="517.3" x2="362.5" y2="548" stroke="#444" stroke-width="1.25"/>
<line x1="397.5" y1="517.3" x2="397.5" y2="548" stroke="#444" stroke-width="1.25"/>
<line x1="362.5" y1="547" x2="397.5" y2="547" stroke="#333" stroke-width="1.25"/>
<path d="M362.50,547.00 L367.70,546.00 L367.70,548.00 Z" fill="#111" stroke="#111" stroke-width="0.9" stroke-linejoin="round"/>
<path d="M397.50,547.00 L392.30,548.00 L392.30,546.00 Z" fill="#111" stroke="#111" stroke-width="0.9" stroke-linejoin="round"/>
<g><circle cx="373.5" cy="542.5" r="2.6" fill="none" stroke="#111" stroke-width="1"/><line x1="370.09999999999997" y1="545.9" x2="376.90000000000003" y2="539.1" stroke="#111" stroke-width="0.9"/></g>
<text x="377.5" y="545.8" font-size="9" font-weight="bold" text-anchor="start" textLength="11" lengthAdjust="spacingAndGlyphs">90</text>
<line x1="358" y1="510" x2="358" y2="568" stroke="#444" stroke-width="1.25"/>
<line x1="402.5" y1="510" x2="402.5" y2="568" stroke="#444" stroke-width="1.25"/>
<line x1="358" y1="566.3" x2="402.5" y2="566.3" stroke="#333" stroke-width="1.25"/>
<path d="M358.00,566.30 L363.20,565.30 L363.20,567.30 Z" fill="#111" stroke="#111" stroke-width="0.9" stroke-linejoin="round"/>
<path d="M402.50,566.30 L397.30,567.30 L397.30,565.30 Z" fill="#111" stroke="#111" stroke-width="0.9" stroke-linejoin="round"/>
<g><circle cx="372.5" cy="562" r="2.6" fill="none" stroke="#111" stroke-width="1"/><line x1="369.09999999999997" y1="565.4" x2="375.90000000000003" y2="558.6" stroke="#111" stroke-width="0.9"/></g>
<text x="376.5" y="565.2" font-size="9" font-weight="bold" text-anchor="start" textLength="12.5" lengthAdjust="spacingAndGlyphs">115</text>
</svg></body></html>
